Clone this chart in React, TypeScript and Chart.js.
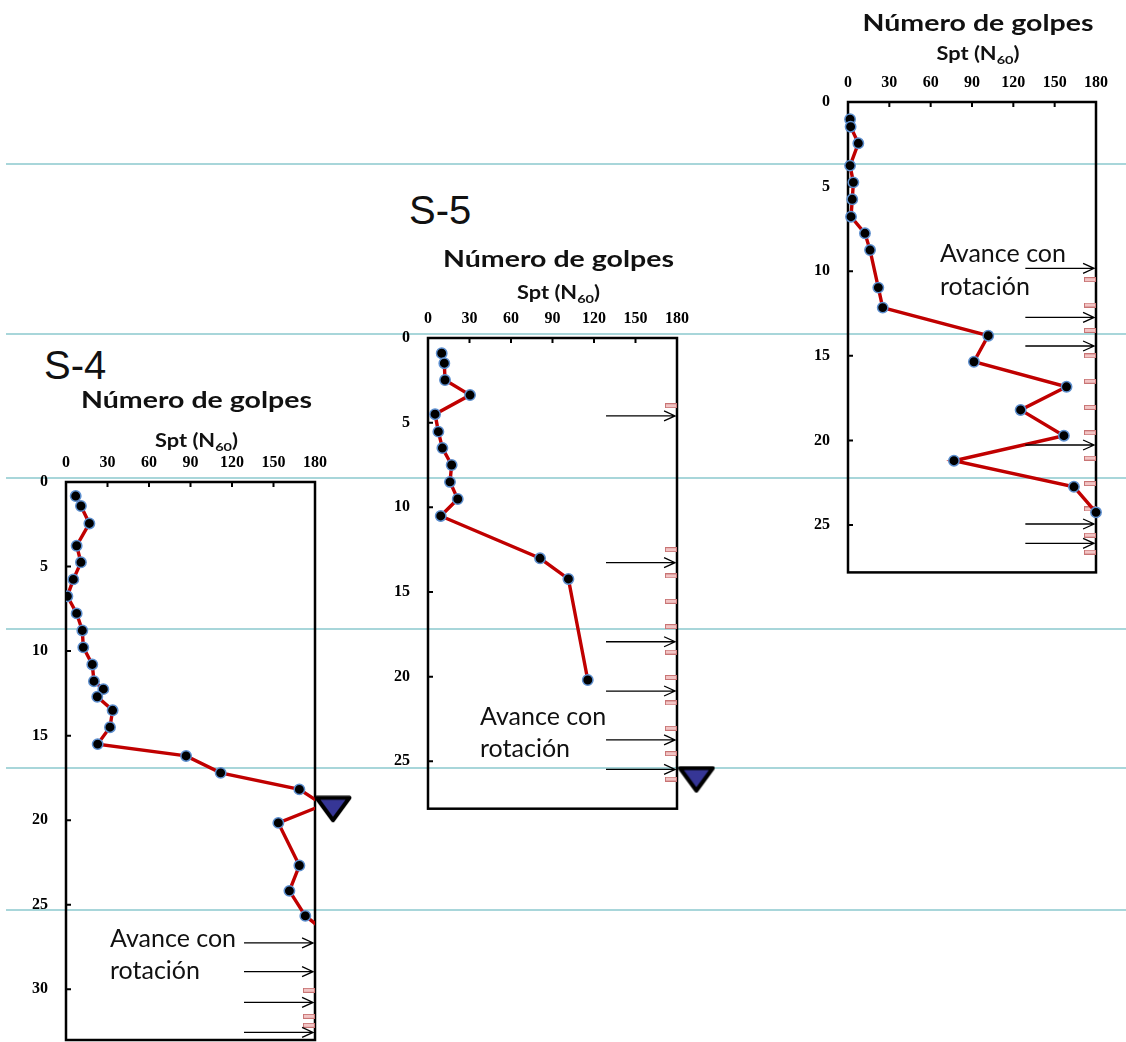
import React, { useEffect, useRef } from 'react';
import { Chart, registerables } from 'chart.js';

Chart.register(...registerables);

// ---------- axes ----------
const X_MIN = 0;
const X_MAX = 180;
const X_STEP = 30;
const Y_STEP = 5;
const S4_Y_MAX = 33;
const S5_Y_MAX = 27.8;
const S6_Y_MAX = 27.8;

// ---------- S-4 ----------
const S4_SPT = [7.0, 10.8, 16.9, 7.7, 10.8, 5.3, 1.0, 7.7, 11.8, 12.5, 19, 20.2, 27, 22.6, 33.7, 31.8, 22.9, 86.8, 111.8, 168.7, 186, 153.5, 168.7, 161.5, 173, 200];
const S4_DEPTH = [0.83, 1.42, 2.45, 3.77, 4.75, 5.76, 6.76, 7.77, 8.78, 9.78, 10.79, 11.78, 12.25, 12.7, 13.5, 14.5, 15.5, 16.2, 17.2, 18.18, 19.1, 20.16, 22.68, 24.18, 25.66, 27.4];
const S4_ARROWS = [27.26, 28.96, 30.78, 32.55];
const S4_DASHES = [30.06, 31.6, 32.13];
const S4_WATER = { n: 193, depth: 19.35 };
const S4_NOTE = { n: 31.8, depth: [27.5, 29.37] };

// ---------- S-5 ----------
const S5_SPT = [9.9, 11.8, 12.3, 30.4, 5.1, 7.5, 10.4, 17.1, 15.9, 21.5, 9.2, 81, 101.5, 115.5];
const S5_DEPTH = [0.9, 1.49, 2.48, 3.37, 4.5, 5.53, 6.5, 7.5, 8.5, 9.51, 10.51, 13.01, 14.23, 20.2];
const S5_ARROWS = [4.6, 13.27, 17.94, 20.85, 23.74, 25.48];
const S5_DASHES = [4.0, 12.5, 14.05, 15.55, 17.05, 18.55, 20.05, 21.55, 23.05, 24.55, 26.05];
const S5_WATER = { n: 194, depth: 26.08 };
const S5_NOTE = { n: 37.6, depth: [22.86, 24.73] };

// ---------- S-6 (right) ----------
const S6_SPT = [1.5, 1.9, 7.5, 1.5, 3.9, 3.1, 2.2, 12.3, 16, 22, 25.2, 101.8, 91.4, 158.6, 125.3, 156.7, 76.9, 164, 180];
const S6_DEPTH = [1.02, 1.46, 2.44, 3.76, 4.75, 5.75, 6.78, 7.76, 8.75, 10.97, 12.15, 13.81, 15.35, 16.83, 18.2, 19.72, 21.2, 22.74, 24.25];
const S6_ARROWS = [9.83, 12.73, 14.42, 20.27, 24.94, 26.08];
const S6_DASHES = [10.5, 12.0, 13.5, 15.0, 16.5, 18.05, 19.55, 21.05, 22.55, 24.05, 25.6, 26.6];
const S6_NOTE = { n: 66.7, depth: [9.44, 11.4] };

const ARROW_FROM = 128.7;
const ARROW_TO = 178.6;
const DASH_N = 175.6;

const TITLE = 'Número de golpes';
const SUB_MAIN = 'Spt (N';
const SUB_SUB = '60';
const SUB_END = ')';
const NOTE_LINES = ['Avance con', 'rotación'];

const GUIDE_TOPS = [164, 334, 478, 629, 768, 910];

function makeDash(): HTMLCanvasElement {
  const c = document.createElement('canvas');
  c.width = 12;
  c.height = 5;
  const g = c.getContext('2d')!;
  g.fillStyle = '#f2c4c4';
  g.fillRect(0.5, 0.5, 11, 4);
  g.strokeStyle = '#c87474';
  g.lineWidth = 1;
  g.strokeRect(0.5, 0.5, 11, 4);
  return c;
}

function makeTriangle(): HTMLCanvasElement {
  const c = document.createElement('canvas');
  c.width = 38;
  c.height = 28;
  const g = c.getContext('2d')!;
  g.beginPath();
  g.moveTo(2.5, 2.5);
  g.lineTo(35.5, 2.5);
  g.lineTo(19, 25);
  g.closePath();
  g.fillStyle = '#363696';
  g.fill();
  g.lineJoin = 'round';
  g.lineWidth = 4;
  g.strokeStyle = '#000';
  g.stroke();
  return c;
}

type PanelProps = {
  spt: number[];
  depth: number[];
  yMax: number;
  arrows: number[];
  dashes: number[];
  water?: { n: number; depth: number };
  note: { n: number; depth: number[] };
  canvas: { left: number; top: number; width: number; height: number };
  area: { left: number; top: number; right: number; bottom: number };
  titleDy: number;
  subDy: number;
  clipPx: number;
};

const Y_AXIS_W = 40;
const X_AXIS_H = 30;

function Panel(p: PanelProps) {
  const ref = useRef<HTMLCanvasElement>(null);
  useEffect(() => {
    const cv = p.canvas;
    const ar = p.area;
    const padding = {
      left: ar.left - cv.left - Y_AXIS_W,
      top: ar.top - cv.top - X_AXIS_H,
      right: cv.left + cv.width - ar.right,
      bottom: cv.top + cv.height - ar.bottom,
    };
    const dashImg = makeDash();
    const triImg = makeTriangle();

    const decor = {
      id: 'decor',
      beforeDatasetsDraw(chart: any) {
        const { ctx, chartArea: a, scales } = chart;
        const xs = scales.x;
        const ys = scales.y;
        ctx.save();
        ctx.strokeStyle = '#000';
        ctx.lineWidth = 2.5;
        ctx.strokeRect(a.left, a.top, a.right - a.left, a.bottom - a.top);
        ctx.lineWidth = 2;
        ctx.beginPath();
        for (let v = X_STEP; v < X_MAX; v += X_STEP) {
          const x = xs.getPixelForValue(v);
          ctx.moveTo(x, a.top);
          ctx.lineTo(x, a.top + 5);
        }
        for (let v = Y_STEP; v <= p.yMax; v += Y_STEP) {
          const y = ys.getPixelForValue(v);
          ctx.moveTo(a.left, y);
          ctx.lineTo(a.left + 5, y);
        }
        ctx.stroke();
        ctx.restore();
      },
      afterDatasetsDraw(chart: any) {
        const { ctx, scales } = chart;
        const xs = scales.x;
        const ys = scales.y;
        ctx.save();
        ctx.strokeStyle = '#000';
        ctx.lineWidth = 1.3;
        const x1 = xs.getPixelForValue(ARROW_FROM);
        const x2 = xs.getPixelForValue(ARROW_TO);
        for (const d of p.arrows) {
          const y = ys.getPixelForValue(d);
          ctx.beginPath();
          ctx.moveTo(x1, y);
          ctx.lineTo(x2, y);
          ctx.moveTo(x2 - 11, y - 5);
          ctx.lineTo(x2, y);
          ctx.lineTo(x2 - 11, y + 5);
          ctx.stroke();
        }
        ctx.fillStyle = '#111';
        ctx.font = '25px Lato';
        ctx.textAlign = 'left';
        ctx.textBaseline = 'alphabetic';
        const nx = xs.getPixelForValue(p.note.n);
        NOTE_LINES.forEach((t, i) => {
          ctx.fillText(t, nx, ys.getPixelForValue(p.note.depth[i]));
        });
        ctx.restore();
      },
      afterDraw(chart: any) {
        const { ctx, chartArea: a } = chart;
        const cx = (a.left + a.right) / 2 + 6;
        ctx.save();
        ctx.fillStyle = '#111';
        ctx.textBaseline = 'alphabetic';
        // title
        ctx.font = 'bold 22px Lato';
        const tw = ctx.measureText(TITLE).width;
        ctx.save();
        ctx.translate(cx, a.top + p.titleDy);
        ctx.scale(231 / tw, 1);
        ctx.textAlign = 'center';
        ctx.fillText(TITLE, 0, 0);
        ctx.restore();
        // subtitle with subscript
        ctx.font = 'bold 18px Lato';
        const w1 = ctx.measureText(SUB_MAIN).width;
        const w3 = ctx.measureText(SUB_END).width;
        ctx.font = 'bold 12px Lato';
        const w2 = ctx.measureText(SUB_SUB).width;
        const total = w1 + w2 + w3;
        ctx.save();
        ctx.translate(cx, a.top + p.subDy);
        ctx.scale(83 / total, 1);
        ctx.textAlign = 'left';
        let x = -total / 2;
        ctx.font = 'bold 18px Lato';
        ctx.fillText(SUB_MAIN, x, 0);
        x += w1;
        ctx.font = 'bold 12px Lato';
        ctx.fillText(SUB_SUB, x, 4);
        x += w2;
        ctx.font = 'bold 18px Lato';
        ctx.fillText(SUB_END, x, 0);
        ctx.restore();
        ctx.restore();
      },
    };

    const datasets: any[] = [
      {
        label: 'SPT',
        data: p.spt.map((n, i) => ({ x: n, y: p.depth[i] })),
        showLine: true,
        borderColor: '#c00000',
        borderWidth: 3.4,
        pointRadius: 5.2,
        pointBackgroundColor: '#000',
        pointBorderColor: '#5d8fcf',
        pointBorderWidth: 1.5,
        clip: p.clipPx,
        order: 2,
      },
      {
        label: 'dashes',
        data: p.dashes.map((d) => ({ x: DASH_N, y: d })),
        showLine: false,
        pointStyle: dashImg,
        pointRadius: 8,
        clip: false,
        order: 3,
      },
    ];
    if (p.water) {
      datasets.push({
        label: 'water',
        data: [{ x: p.water.n, y: p.water.depth }],
        showLine: false,
        pointStyle: triImg,
        pointRadius: 30,
        clip: false,
        order: 1,
      });
    }

    const chart = new Chart(ref.current!, {
      type: 'scatter',
      data: { datasets },
      options: {
        animation: false,
        responsive: false,
        events: [],
        layout: { padding },
        plugins: { legend: { display: false }, tooltip: { enabled: false } },
        scales: {
          x: {
            type: 'linear',
            position: 'top',
            min: X_MIN,
            max: X_MAX,
            grid: { display: false, drawTicks: false },
            border: { display: false },
            ticks: {
              stepSize: X_STEP,
              padding: 10,
              color: '#000',
              maxRotation: 0,
              font: { family: "'Liberation Serif', 'Times New Roman', serif", weight: 'bold', size: 16 },
            },
            afterFit: (s: any) => {
              s.height = X_AXIS_H;
            },
          },
          y: {
            type: 'linear',
            reverse: true,
            min: 0,
            max: p.yMax,
            grid: { display: false, drawTicks: false },
            border: { display: false },
            ticks: {
              stepSize: Y_STEP,
              includeBounds: false,
              padding: 18,
              color: '#000',
              font: { family: "'Liberation Serif', 'Times New Roman', serif", weight: 'bold', size: 16 },
            },
            afterFit: (s: any) => {
              s.width = Y_AXIS_W;
            },
          },
        },
      } as any,
      plugins: [decor],
    });
    return () => chart.destroy();
  }, []);
  const cv = p.canvas;
  return (
    <canvas
      ref={ref}
      width={cv.width}
      height={cv.height}
      style={{ position: 'absolute', left: cv.left, top: cv.top, width: cv.width, height: cv.height }}
    />
  );
}

const labelStyle: React.CSSProperties = {
  position: 'absolute',
  fontFamily: "'Liberation Sans', Arial, sans-serif",
  fontSize: 40,
  lineHeight: '40px',
  color: '#111',
  whiteSpace: 'nowrap',
};

export default function App() {
  return (
    <div style={{ position: 'absolute', left: 0, top: 0, width: 1126, height: 1042, background: '#fff', overflow: 'hidden' }}>
      {GUIDE_TOPS.map((t, i) => (
        <div key={i} style={{ position: 'absolute', left: 6, top: t - 1, width: 1120, height: 2, background: '#a8d6da' }} />
      ))}
      <div style={{ ...labelStyle, left: 44, top: 345 }}>S-4</div>
      <div style={{ ...labelStyle, left: 409, top: 190 }}>S-5</div>
      <Panel
        spt={S4_SPT}
        depth={S4_DEPTH}
        yMax={S4_Y_MAX}
        arrows={S4_ARROWS}
        dashes={S4_DASHES}
        water={S4_WATER}
        note={S4_NOTE}
        canvas={{ left: 0, top: 370, width: 380, height: 720 }}
        area={{ left: 66, top: 482, right: 315, bottom: 1040 }}
        titleDy={-74}
        subDy={-35}
        clipPx={0}
      />
      <Panel
        spt={S5_SPT}
        depth={S5_DEPTH}
        yMax={S5_Y_MAX}
        arrows={S5_ARROWS}
        dashes={S5_DASHES}
        water={S5_WATER}
        note={S5_NOTE}
        canvas={{ left: 380, top: 235, width: 360, height: 650 }}
        area={{ left: 428, top: 338, right: 677, bottom: 808.7 }}
        titleDy={-71}
        subDy={-39}
        clipPx={0}
      />
      <Panel
        spt={S6_SPT}
        depth={S6_DEPTH}
        yMax={S6_Y_MAX}
        arrows={S6_ARROWS}
        dashes={S6_DASHES}
        note={S6_NOTE}
        canvas={{ left: 780, top: 0, width: 346, height: 630 }}
        area={{ left: 848, top: 102, right: 1096, bottom: 572.4 }}
        titleDy={-71}
        subDy={-42}
        clipPx={8}
      />
    </div>
  );
}
